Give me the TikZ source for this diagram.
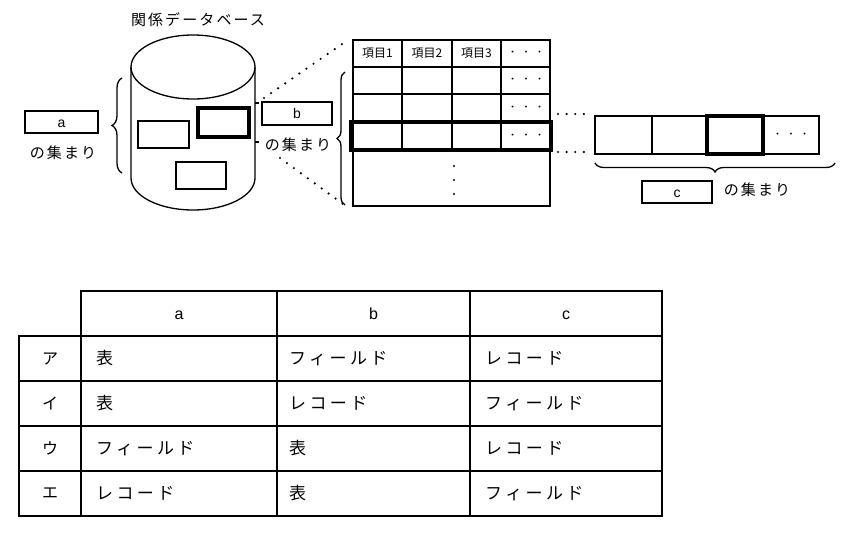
\documentclass[tikz,border=0pt]{standalone}
\usepackage{fontspec}
\setmainfont{Liberation Sans}
\newfontfamily\jp{Noto Sans CJK JP}
\newfontfamily\jpw[LetterSpace=20]{Noto Sans CJK JP}
\newfontfamily\jpm[LetterSpace=14]{Noto Sans CJK JP}
\usetikzlibrary{decorations.pathreplacing}
\newcommand{\tridots}{・\hspace{4.5pt}・\hspace{4.5pt}・}
\begin{document}
\begin{tikzpicture}[x=1pt,y=1pt,
  ln/.style={line width=1.3pt},
  thk/.style={line width=3.6pt},
  lbox/.style={draw,line width=1.3pt,minimum width=72pt,minimum height=22pt,inner sep=0pt,text height=10pt,text depth=0pt,font=\fontsize{14}{16}\selectfont},
  jpt/.style={font=\jpm\fontsize{15}{18}\selectfont,inner sep=0pt},
  small/.style={font=\jp\fontsize{12}{14}\selectfont,inner sep=0pt},
  ell/.style={font=\jp\fontsize{9}{11}\selectfont,inner sep=0pt},
  cell/.style={font=\jpw\fontsize{17}{20}\selectfont,inner sep=0pt,anchor=west},
  lbl/.style={font=\jp\fontsize{16}{19}\selectfont,inner sep=0pt},
  hdr/.style={font=\fontsize{16}{19}\selectfont,inner sep=0pt,anchor=base},
  dotline/.style={line width=2.4pt,line cap=round,dash pattern=on 0pt off 8.6pt},
  brc/.style={decorate,decoration={brace,amplitude=#1},line width=1.3pt}]
\useasboundingbox (0,0) rectangle (848,-538);

% ---------- database cylinder ----------
\node[jpt] (title) at (198,-20) {関係データベース};
\draw[ln] (131,-67) -- (131,-178) arc[start angle=180,end angle=360,x radius=62,y radius=32] -- (255,-67);
\draw[ln] (193,-67) ellipse[x radius=62,y radius=32];
\draw[ln] (138,-121) rectangle (189,-148);
\draw[thk] (198,-108) rectangle (249,-137);
\draw[ln] (176,-162) rectangle (226,-189);
\coordinate (t1a) at (255,-103); \coordinate (t1b) at (258.5,-103);
\coordinate (t2a) at (255,-142); \coordinate (t2b) at (258.5,-142);
\draw[ln] (t1a) -- (t1b);
\draw[ln] (t2a) -- (t2b);

% ---------- a ----------
\node[lbox,minimum width=73pt] (boxa) at (61.5,-122) {a};
\node[jpt] (atext) at (63,-153) {の集まり};
\coordinate (bra1) at (122,-173);
\coordinate (bra2) at (122,-78);
\draw[brc=10pt] (bra1) -- (bra2);

% ---------- b ----------
\node[lbox,minimum width=70pt,minimum height=23pt] (boxb) at (297,-113.5) {b};
\node[jpt] (btext) at (298,-145) {の集まり};
\coordinate (du1) at (264,-98);
\coordinate (du2) at (345,-42);
\coordinate (dl1) at (280,-158);
\coordinate (dl2) at (343,-204);
\draw[dotline] (du1) -- (du2);
\draw[dotline] (dl1) -- (dl2);

% ---------- table ----------
\draw[ln] (353,-40) rectangle (550,-206);
\foreach \yy in {67,94,122,150} \draw[ln] (353,-\yy) -- (550,-\yy);
\foreach \xx in {402,452,501} \draw[ln] (\xx,-40) -- (\xx,-150);
\draw[thk] (351,-122) rectangle (551,-150);
\node[small] (h1) at (377.5,-53.5) {項目1};
\node[small] (h2) at (427,-53.5) {項目2};
\node[small] (h3) at (476.5,-53.5) {項目3};
\node[ell] (e0) at (526,-53.5) {\tridots};
\node[ell] (e1) at (526,-80.5) {\tridots};
\node[ell] (e2) at (526,-108) {\tridots};
\node[ell] (e3) at (526,-136) {\tridots};
\foreach \yy in {166,180,194} \fill (454,-\yy) circle[radius=1.1];
\coordinate (brt1) at (345,-205);
\coordinate (brt2) at (345,-72);
\draw[brc=8pt] (brt1) -- (brt2);

% ---------- record ----------
\draw[ln] (595,-116) rectangle (819,-154);
\foreach \xx in {652,763} \draw[ln] (\xx,-116) -- (\xx,-154);
\draw[thk] (707,-116) rectangle (763,-154);
\node[ell] (e4) at (791,-135) {\tridots};
\coordinate (dr1) at (558,-114); \coordinate (dr2) at (590,-114);
\coordinate (dr3) at (558,-152); \coordinate (dr4) at (590,-152);
\draw[dotline] (dr1) -- (dr2);
\draw[dotline] (dr3) -- (dr4);
\coordinate (brr1) at (835,-163);
\coordinate (brr2) at (595,-163);
\draw[brc=9pt] (brr1) -- (brr2);
\node[lbox,minimum width=70pt] (boxc) at (677,-192) {c};
\node[jpt] (ctext) at (757,-190) {の集まり};

% ---------- answer table ----------
\draw[ln] (81,-291) rectangle (662,-336);
\draw[ln] (19,-336) rectangle (662,-516);
\foreach \yy in {381,426,471} \draw[ln] (19,-\yy) -- (662,-\yy);
\foreach \xx in {81,277,470} \draw[ln] (\xx,-291) -- (\xx,-516);
\node[hdr] (ha) at (179,-319) {a};
\node[hdr] (hb) at (373.5,-319) {b};
\node[hdr] (hc) at (566,-319) {c};
\node[lbl] (r1) at (50,-358.5) {ア};
\node[lbl] (r2) at (50,-403.5) {イ};
\node[lbl] (r3) at (50,-448.5) {ウ};
\node[lbl] (r4) at (50,-493.5) {エ};
\node[cell] (c11) at (96,-358.5) {表};
\node[cell] (c12) at (289,-358.5) {フィールド};
\node[cell] (c13) at (485,-358.5) {レコード};
\node[cell] (c21) at (96,-403.5) {表};
\node[cell] (c22) at (289,-403.5) {レコード};
\node[cell] (c23) at (485,-403.5) {フィールド};
\node[cell] (c31) at (96,-448.5) {フィールド};
\node[cell] (c32) at (289,-448.5) {表};
\node[cell] (c33) at (485,-448.5) {レコード};
\node[cell] (c41) at (96,-493.5) {レコード};
\node[cell] (c42) at (289,-493.5) {表};
\node[cell] (c43) at (485,-493.5) {フィールド};
\end{tikzpicture}
\end{document}
